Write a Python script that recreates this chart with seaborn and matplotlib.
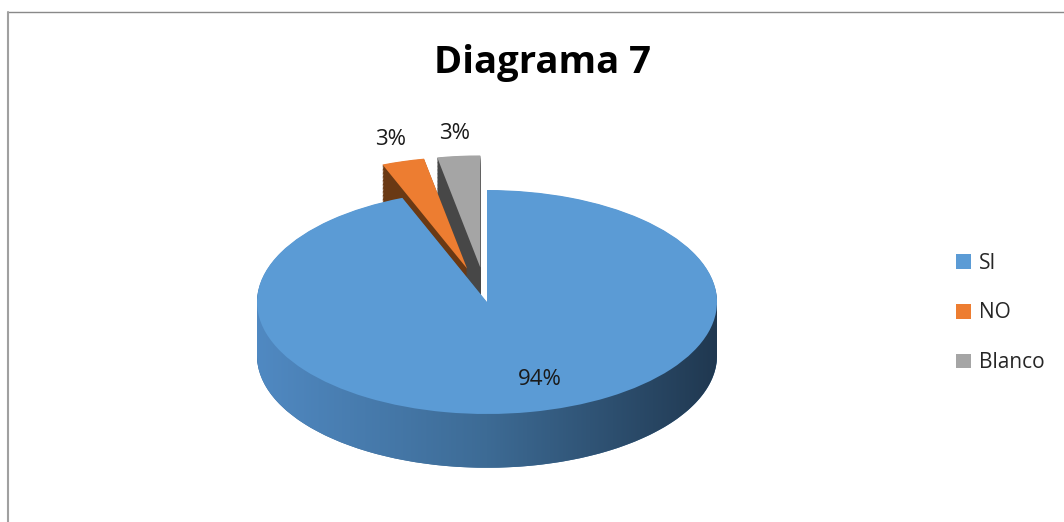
import numpy as np
import matplotlib
matplotlib.use("Agg")
import matplotlib.pyplot as plt
import seaborn as sns
from matplotlib.path import Path
from matplotlib.patches import Patch
from matplotlib.colors import LinearSegmentedColormap

# data
categories = ["SI", "NO", "Blanco"]
values = [94, 3, 3]
explode = [0, 0.31, 0.31]
title = "Diagrama 7"

# excel-ish office palette
top_colors = sns.color_palette(["#5B9BD5", "#ED7D31", "#A5A5A5"])
side_colors = ["#3D6D99", "#6A3914", "#474747"]

sns.set_theme(style="white")
plt.rcParams["font.family"] = ["Open Sans", "DejaVu Sans"]

fig = plt.figure(figsize=(10.64, 5.22), dpi=100)
ax = fig.add_axes([0, 0, 1, 1])

depth = 0.48
n_layers = 40

# extruded side: stack of shifted pies, deepest first
for k in np.linspace(depth, 0.005, n_layers):
    ax.pie(values, colors=side_colors, startangle=90, counterclock=False,
           explode=explode, center=(0, -k), radius=1,
           wedgeprops=dict(linewidth=0))

# horizontal gradient on the front band of the big slice
band = np.linspace(0, 1, 256).reshape(1, -1)
cmap = LinearSegmentedColormap.from_list("side", ["#5089C2", "#3D6B95", "#203850"])
im = ax.imshow(band, cmap=cmap, extent=[-1, 1, -1 - depth, 0], aspect="auto", zorder=2)
theta = np.linspace(np.pi, 2 * np.pi, 200)
verts = np.column_stack([np.cos(theta), np.sin(theta) - depth])
verts = np.vstack([verts, [[1, 0], [-1, 0], verts[0]]])
im.set_clip_path(Path(verts, closed=True), ax.transData)

# top face
small_labels = ["" if v > 50 else f"{v}%" for v in values]
wedges, texts, autotexts = ax.pie(
    values, colors=top_colors, startangle=90, counterclock=False,
    explode=explode, radius=1, labels=small_labels, labeldistance=1.2,
    autopct=lambda p: f"{p:.0f}%" if p > 50 else "", pctdistance=0.70,
    wedgeprops=dict(linewidth=0, zorder=3),
    textprops=dict(fontsize=16, color="#1a1a1a"))
for w in wedges:
    w.set_zorder(3)
for t in list(texts) + list(autotexts):
    t.set_ha("center")
    t.set_va("center")
    t.set_zorder(5)
# excel nudges the big label a bit to the right on the tilted face
px, py = autotexts[0].get_position()
autotexts[0].set_position((px + 0.1, py))

# map data space onto the picture: centre (487,302) px, radii 230 x 112 px
ax.set_aspect("auto")
ax.set_xlim(-487 / 230, (1064 - 487) / 230)
ax.set_ylim(-(522 - 302) / 112, 302 / 112)
ax.axis("off")

fig.text(542 / 1064, 1 - 63 / 522, title, ha="center", va="center",
         fontsize=27.5, fontweight="bold", color="#000000")

handles = [Patch(facecolor=c, edgecolor="none") for c in top_colors]
fig.legend(handles, categories, loc="center left",
           bbox_to_anchor=(956 / 1064, 1 - 313 / 522), frameon=False,
           fontsize=15, labelspacing=1.38, handlelength=0.7, handleheight=0.7,
           handletextpad=0.4, borderpad=0, borderaxespad=0)

# chart area border (runs off the right and bottom edges)
fig.add_artist(plt.Line2D([8 / 1064, 1.01], [1 - 12 / 522, 1 - 12 / 522],
                          transform=fig.transFigure, color="#898989", lw=1))
fig.add_artist(plt.Line2D([8 / 1064, 8 / 1064], [1 - 12 / 522, -0.01],
                          transform=fig.transFigure, color="#A0A0A0", lw=1.5))

fig.savefig("out.png", dpi=100)
